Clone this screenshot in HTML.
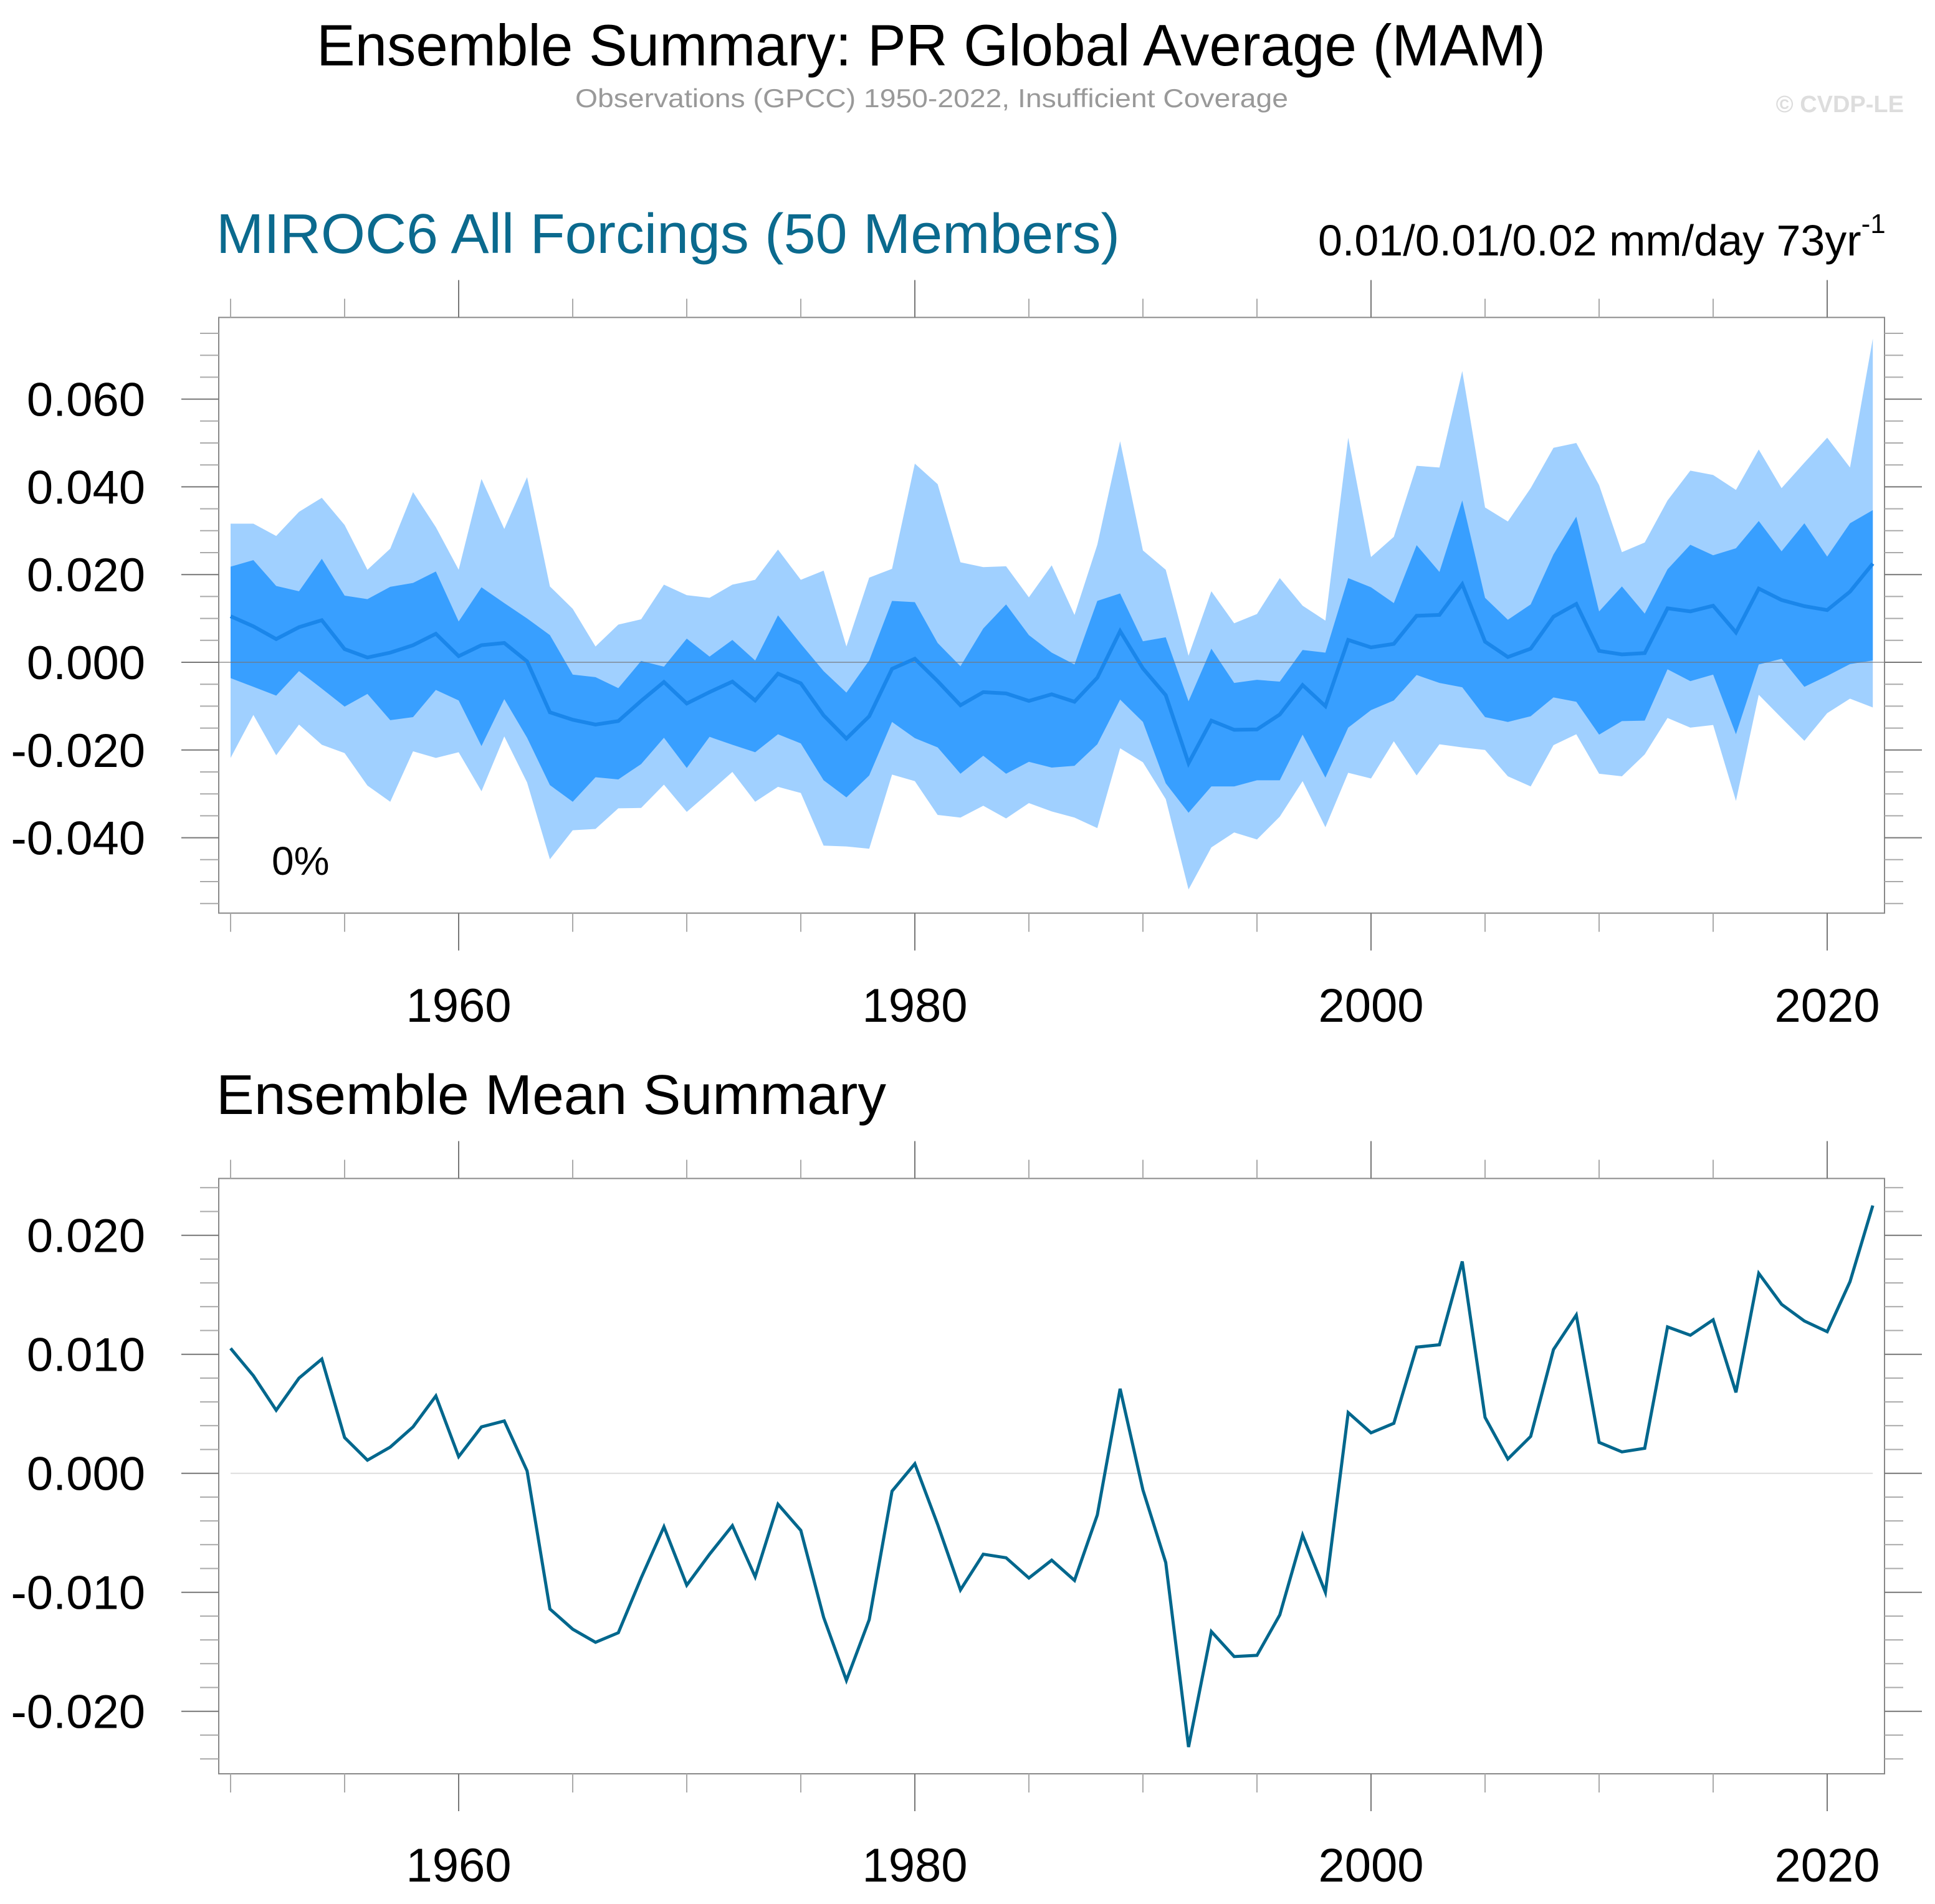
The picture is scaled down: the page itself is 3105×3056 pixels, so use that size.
<!DOCTYPE html>
<html><head><meta charset="utf-8"><style>
html,body{margin:0;padding:0;background:#fff;}
svg{display:block;font-family:"Liberation Sans",Arial,sans-serif;}
</style></head><body>
<svg id="chart" width="3105" height="3056" viewBox="0 0 3105 3056" xmlns="http://www.w3.org/2000/svg">
<text x="1494" y="105" font-size="94" text-anchor="middle" textLength="1972" lengthAdjust="spacingAndGlyphs">Ensemble Summary: PR Global Average (MAM)</text>
<text x="1495" y="172" font-size="42" fill="#999" text-anchor="middle" textLength="1144" lengthAdjust="spacingAndGlyphs">Observations (GPCC) 1950-2022, Insufficient Coverage</text>
<text x="3055" y="180" font-size="38" font-weight="bold" fill="#ddd" text-anchor="end">© CVDP-LE</text>
<text x="347" y="406" font-size="90" fill="#0b6a8e" textLength="1450" lengthAdjust="spacingAndGlyphs">MIROC6 All Forcings (50 Members)</text>
<text x="2115" y="410" font-size="70">0.01/0.01/0.02 mm/day 73yr<tspan font-size="44" dy="-36">-1</tspan></text>
<text x="347" y="1788" font-size="90" textLength="1075" lengthAdjust="spacingAndGlyphs">Ensemble Mean Summary</text>
<g id="top"></g><g id="bot"></g>
<text x="436" y="1404" font-size="64">0%</text>
</svg>
<script>
const years = Array.from({length:73},(_,i)=>1950+i);
const ensMean = [10.5,8.2,5.3,8.0,9.6,3.0,1.1,2.2,3.9,6.5,1.4,3.9,4.4,0.2,-11.4,-13.1,-14.2,-13.4,-8.8,-4.5,-9.4,-6.8,-4.4,-8.7,-2.6,-4.8,-12.1,-17.4,-12.3,-1.5,0.8,-4.3,-9.8,-6.8,-7.1,-8.8,-7.3,-9.0,-3.5,7.1,-1.4,-7.5,-23.0,-13.3,-15.4,-15.3,-11.9,-5.2,-10.0,5.1,3.4,4.2,10.6,10.8,17.8,4.7,1.2,3.1,10.4,13.3,2.6,1.8,2.1,12.3,11.6,12.9,6.8,16.8,14.2,12.8,11.9,16.1,22.5];
const outerTop = [31.6,31.6,28.8,34.3,37.5,31.3,21.1,25.9,38.8,30.8,21.1,41.8,30.4,42.2,17.3,12.2,3.6,8.6,9.8,17.7,15.3,14.7,17.7,18.8,25.7,18.8,20.9,3.6,19.3,21.3,45.3,40.6,22.8,21.7,21.9,14.8,22.1,10.8,26.8,50.4,25.5,21.1,1.5,16.2,8.9,11.0,19.2,12.9,9.5,51.2,24.0,28.6,44.8,44.4,66.4,35.3,32.1,39.7,48.9,50.0,40.4,25.1,27.3,36.9,43.7,42.7,39.3,48.5,39.7,45.5,51.2,44.4,73.8];
const innerTop = [21.8,23.3,17.4,16.2,23.6,15.2,14.4,17.2,18.1,20.7,9.3,17.1,13.5,10.0,6.2,-2.8,-3.4,-5.9,0.3,-1.0,5.4,1.3,5.1,0.4,10.7,4.2,-2.0,-6.9,0.4,14.0,13.7,4.4,-0.9,7.7,13.2,6.2,2.2,-0.5,14.0,15.7,4.8,5.7,-8.9,3.1,-4.7,-4.0,-4.4,2.8,2.2,19.2,17.1,13.5,26.7,20.6,36.9,14.7,9.7,13.2,24.6,33.2,11.6,17.3,11.1,21.2,26.8,24.4,26.0,32.2,25.3,31.7,24.1,31.7,34.7];
const innerBot = [-3.6,-5.6,-7.6,-2.0,-6.0,-10.1,-7.2,-13.2,-12.5,-6.3,-8.7,-19.1,-8.4,-17.2,-28.0,-31.8,-26.2,-26.7,-23.2,-17.2,-24.1,-17.0,-18.8,-20.5,-16.4,-18.5,-26.9,-30.8,-25.8,-13.6,-17.3,-19.4,-25.4,-21.3,-25.4,-22.7,-24.0,-23.6,-18.7,-8.5,-13.6,-27.6,-34.3,-28.3,-28.3,-26.9,-26.9,-16.5,-26.3,-14.9,-10.9,-8.7,-2.9,-4.7,-5.7,-12.5,-13.6,-12.3,-8.0,-9.0,-16.5,-13.4,-13.3,-1.6,-4.3,-2.8,-16.4,-0.5,0.8,-5.6,-3.1,-0.4,0.4];
const outerBot = [-21.8,-12.0,-21.2,-14.2,-18.8,-20.7,-28.1,-31.8,-20.3,-21.8,-20.5,-29.4,-16.9,-27.4,-44.9,-38.3,-38.0,-33.3,-33.2,-27.9,-34.1,-29.6,-25.0,-31.8,-28.4,-29.8,-41.8,-42.0,-42.5,-25.6,-27.1,-34.8,-35.4,-32.7,-35.6,-32.1,-34.0,-35.4,-37.8,-19.6,-22.8,-31.2,-51.8,-42.2,-38.8,-40.4,-35.2,-27.1,-37.6,-25.2,-26.5,-18.0,-25.8,-18.7,-19.4,-20.0,-26.0,-28.3,-18.9,-16.4,-25.4,-26.0,-21.0,-12.7,-14.9,-14.3,-31.6,-7.4,-12.7,-17.9,-11.6,-8.3,-10.3];
const topTickLabels = ["-0.040","-0.020","0.000","0.020","0.040","0.060"];
const botTickLabels = ["-0.020","-0.010","0.000","0.010","0.020"];
const xTickLabels = ["1960","1980","2000","2020"];

const NS="http://www.w3.org/2000/svg";
function mk(parent,tag,attrs){const e=document.createElementNS(NS,tag);for(const k in attrs)e.setAttribute(k,attrs[k]);parent.appendChild(e);return e;}
const X = yr => 370 + (yr-1950)*36.6;
const FL=351, FR=3024;

function axes(g, top, bottom, Y, yMin, yMax, minorStep, labels, labelY, prefix){
  const frame=mk(g,'rect',{x:FL,y:top,width:FR-FL,height:bottom-top,fill:'none',stroke:'#888','stroke-width':2});
  
  
  const n=Math.round((yMax-yMin)/minorStep);
  for(let k=0;k<=n;k++){
    const v=yMin+k*minorStep; const y=Y(v);
    const major=labels.some(l=>Math.abs(parseFloat(l)-v)<1e-9);
    const len=major?60:30;
    const t1=mk(g,'line',{x1:FL-len,x2:FL,y1:y,y2:y,stroke:major?'#777':'#aaa','stroke-width':2});
    
    
    const t2=mk(g,'line',{x1:FR,x2:FR+len,y1:y,y2:y,stroke:major?'#777':'#aaa','stroke-width':2});
    
    
  }
  labels.forEach(l=>{
    const t=mk(g,'text',{x:233,y:Y(parseFloat(l))+27,'font-size':76,'text-anchor':'end'});
    t.textContent=l;
    
    
  });
  for(let yr=1950;yr<=2020;yr+=5){
    const major=yr%20===0; const len=major?60:30; const x=X(yr);
    const a=mk(g,'line',{x1:x,x2:x,y1:top-len,y2:top,stroke:major?'#777':'#aaa','stroke-width':2});
    
    
    const b=mk(g,'line',{x1:x,x2:x,y1:bottom,y2:bottom+len,stroke:major?'#777':'#aaa','stroke-width':2});
    
    
  }
  xTickLabels.forEach(l=>{
    const t=mk(g,'text',{x:X(parseFloat(l)),y:labelY,'font-size':76,'text-anchor':'middle'});
    t.textContent=l;
    
    
  });
}

const gt=document.getElementById('top');
const Yt = v => 1063 - v/0.02*140.8;
function band(upper,lower,color,name){
  let d='M'+years.map((yr,i)=>X(yr)+','+Yt(upper[i]/1000)).join('L');
  for(let i=years.length-1;i>=0;i--) d+='L'+X(years[i])+','+Yt(lower[i]/1000);
  const p=mk(gt,'path',{d:d+'Z',fill:color});
  
  
}
band(outerTop,outerBot,'#a0d0ff','outer-spread-band');
band(innerTop,innerBot,'#389fff','inner-spread-band');
const zt=mk(gt,'line',{x1:FL,x2:FR,y1:Yt(0),y2:Yt(0),stroke:'#777','stroke-opacity':0.6,'stroke-width':2});


const lt=mk(gt,'polyline',{points:years.map((yr,i)=>X(yr)+','+Yt(ensMean[i]/1000)).join(' '),fill:'none',stroke:'#1a86ea','stroke-width':6,'stroke-linejoin':'miter'});


axes(gt,509.5,1465.6,Yt,-0.055,0.075,0.005,topTickLabels,1640,'top');

const gb=document.getElementById('bot');
const Yb = v => 2364.7 - v/0.01*191;
const zb=mk(gb,'line',{x1:X(1950),x2:X(2022),y1:Yb(0),y2:Yb(0),stroke:'#ddd','stroke-width':2});


const lb=mk(gb,'polyline',{points:years.map((yr,i)=>X(yr)+','+Yb(ensMean[i]/1000)).join(' '),fill:'none',stroke:'#00678d','stroke-width':5});


axes(gb,1891.5,2847,Yb,-0.024,0.024,0.002,botTickLabels,3020,'bottom');
</script>
</body></html>
